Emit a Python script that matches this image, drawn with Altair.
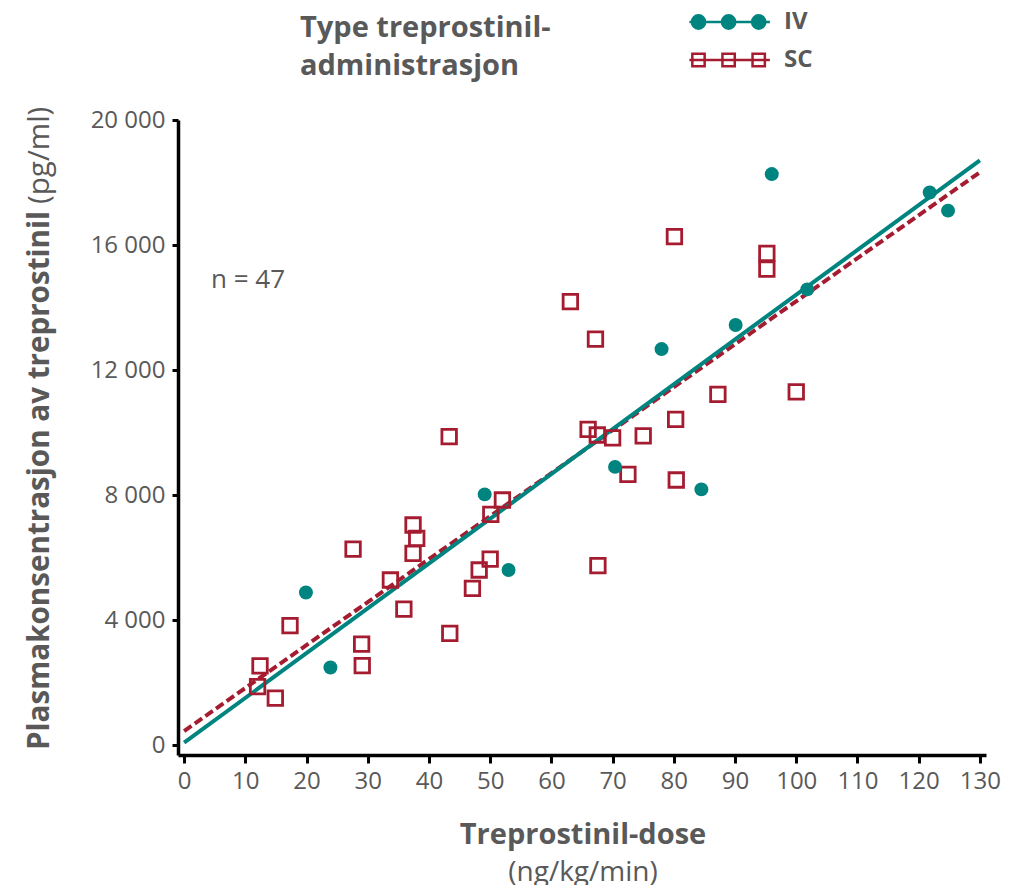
import altair as alt
import pandas as pd

# ---- data ----
iv_dose = [19.9, 23.9, 49.1, 53.0, 70.4, 78.0, 84.5, 90.1, 96.0, 101.8, 121.8, 124.8]
iv_conc = [4880, 2480, 8020, 5600, 8900, 12670, 8180, 13440, 18270, 14580, 17680, 17100]

sc_dose = [12.0, 12.4, 14.9, 17.3, 27.6, 29.0, 29.1, 33.7, 35.9, 37.4, 38.0, 37.4,
           43.3, 43.4, 47.1, 48.2, 50.0, 50.1, 52.0, 63.1, 66.0, 67.2, 67.5, 67.6,
           70.0, 72.5, 75.0, 80.1, 80.3, 80.4, 87.2, 95.2, 95.2, 100.0]
sc_conc = [1870, 2530, 1500, 3820, 6270, 3230, 2540, 5280, 4350, 7040, 6610, 6130,
           9870, 3570, 5010, 5600, 5950, 7380, 7840, 14190, 10100, 12990, 9920, 5740,
           9830, 8660, 9890, 16270, 10420, 8480, 11220, 15730, 15230, 11300]

types = ["IV", "SC"]
x_ticks = list(range(0, 131, 10))
y_ticks = list(range(0, 20001, 4000))
fit_extent = [0, 130]

TEAL = "#00847F"
RED = "#A51C30"
GRAY = "#595959"
FONT = "Open Sans"

df = pd.DataFrame({
    "dose": iv_dose + sc_dose,
    "conc": iv_conc + sc_conc,
    "Type": ["IV"] * len(iv_dose) + ["SC"] * len(sc_dose),
})

x_enc = alt.X(
    "dose:Q",
    scale=alt.Scale(domain=[-1, 131], nice=False, zero=False),
    axis=alt.Axis(values=x_ticks, title=None, grid=False, domainColor="black",
                  domainWidth=3.5, tickColor="black", tickWidth=3, tickSize=8,
                  labelFontSize=24, labelColor=GRAY, labelFont=FONT, labelPadding=6,
                  labelFlush=False, labelOverlap=False),
)
y_enc = alt.Y(
    "conc:Q",
    scale=alt.Scale(domain=[-320, 20000], nice=False, zero=False),
    axis=alt.Axis(values=y_ticks, title=None, grid=False, domainColor="black",
                  domainWidth=3.5, tickColor="black", tickWidth=3, tickSize=6,
                  labelFontSize=24, labelColor=GRAY, labelFont=FONT, labelPadding=7,
                  labelExpr="replace(format(datum.value, ','), ',', ' ')",
                  labelOverlap=False, labelFlush=False),
)

base = alt.Chart(df)

sc_line = base.transform_filter("datum.Type == 'SC'").transform_regression(
    "dose", "conc", extent=fit_extent
).mark_line(color=RED, strokeWidth=4, strokeDash=[9, 4]).encode(x=x_enc, y=y_enc)

iv_line = base.transform_filter("datum.Type == 'IV'").transform_regression(
    "dose", "conc", extent=fit_extent
).mark_line(color=TEAL, strokeWidth=4).encode(x=x_enc, y=y_enc)

sc_pts = base.transform_filter("datum.Type == 'SC'").mark_point(
    shape="square", size=210, filled=False, color=RED, strokeWidth=2.8, opacity=1
).encode(x=x_enc, y=y_enc)

iv_pts = base.transform_filter("datum.Type == 'IV'").mark_circle(
    size=195, color=TEAL, opacity=1
).encode(x=x_enc, y=y_enc)

# legend symbols: line with three markers (unit = sqrt(size)/2 = 7px)
def circ(cx, r):
    return f"M{cx - r},0A{r},{r} 0 1,0 {cx + r},0A{r},{r} 0 1,0 {cx - r},0Z"

def sq(cx, h):
    return f"M{cx - h},{-h}L{cx + h},{-h}L{cx + h},{h}L{cx - h},{h}Z"

iv_path = "M-5.8,0L5.7,0" + "".join(circ(c, 0.95) for c in (-4.5, -0.2, 4.1))
sc_path = "M-5.8,0L5.7,0" + "".join(sq(c, 0.88) for c in (-4.5, -0.2, 4.1))

leg = alt.Legend(orient="none", legendX=540, legendY=-110, title=None,
                 labelFont=FONT, labelFontSize=24, labelFontWeight="bold",
                 labelColor=GRAY, labelOffset=42, symbolSize=196, rowPadding=14,
                 padding=0, symbolStrokeWidth=2.5, symbolOpacity=1)

legend_layer = base.mark_point(size=196, strokeWidth=2.5).encode(
    x=x_enc, y=y_enc,
    shape=alt.Shape("Type:N", scale=alt.Scale(domain=types, range=[iv_path, sc_path]), legend=leg),
    fill=alt.Fill("Type:N", scale=alt.Scale(domain=types, range=[TEAL, "transparent"]), legend=leg),
    stroke=alt.Stroke("Type:N", scale=alt.Scale(domain=types, range=[TEAL, RED]), legend=leg),
    opacity=alt.value(0),
)


def txt(text, x, y, size, weight="normal", align="left", angle=0):
    return alt.Chart(pd.DataFrame({"t": [text]})).mark_text(
        text=text, font=FONT, fontSize=size, fontWeight=weight, color=GRAY,
        align=align, baseline="middle", angle=angle
    ).encode(x=alt.value(x), y=alt.value(y))


texts = [
    txt("n = 47", 33, 160, 26),
    txt("Type treprostinil-", 122, -92, 29, "bold"),
    txt("administrasjon", 122, -54, 29, "bold"),
    txt("Treprostinil-dose", 405, 715, 29, "bold", align="center"),
    txt("(ng/kg/min)", 405, 753, 28, "normal", align="center"),
    txt("Plasmakonsentrasjon av treprostinil", -138, 630, 29.6, "bold", angle=270),
    txt("(pg/ml)", -138, 84, 29.6, "normal", angle=270),
]

chart = alt.layer(sc_line, iv_line, sc_pts, iv_pts, legend_layer, *texts).properties(
    width=808, height=635,
    padding={"left": 170, "top": 112, "right": 23, "bottom": 130},
    autosize=alt.AutoSizeParams(type="none"),
).configure_view(stroke=None)

chart.save("out.html", embed_options={"renderer": "svg", "actions": False})
